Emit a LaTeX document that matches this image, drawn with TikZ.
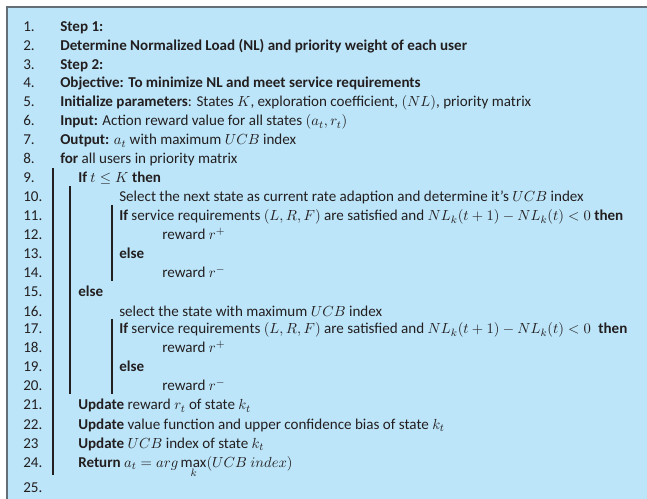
\documentclass[tikz,border=0pt]{standalone}
\usepackage{fontspec}
\setmainfont{Carlito}
\definecolor{boxfill}{RGB}{188,229,249}
\definecolor{boxline}{RGB}{100,110,118}
\definecolor{ink}{RGB}{35,31,32}
\begin{document}
\begin{tikzpicture}[x=0.75pt,y=-0.75pt,
  num/.style={anchor=base west,inner sep=0pt,text=ink,font=\fontsize{11.3}{13}\selectfont},
  txt/.style={anchor=base west,inner sep=0pt,text=ink,font=\fontsize{11.3}{13}\selectfont},
  bar/.style={draw=ink,line width=0.8pt}]
\useasboundingbox (0,0) rectangle (647,499);
\fill[boxfill] (7,7) rectangle (647,499);
\draw[boxline,line width=1.2pt] (7,499) -- (7,7) -- (647,7);
% line baselines: center + 5
\foreach \n/\y in {1./32,2./51,3./70,4./88,5./107,6./126,7./145,8./164,9./183,10./202,11./221,12./240,13./259,14./278,15./297,16./316,17./334,18./353,19./372,20./391,21./410,22./429,23/448,24./467,25./492}
  \node[num] (n\n) at (23,\y) {\n};
\node[txt] (t1) at (60,32) {\textbf{Step 1:}};
\node[txt] (t2) at (60,51) {\textbf{Determine Normalized Load (NL) and priority weight of each user}};
\node[txt] (t3) at (60,70) {\textbf{Step 2:}};
\node[txt] (t4) at (60,88) {\textbf{Objective: To minimize NL and meet service requirements}};
\node[txt] (t5) at (60,107) {\textbf{Initialize parameters}: States $K$, exploration coefficient, $(NL)$, priority matrix};
\node[txt] (t6) at (60,126) {\textbf{Input:} Action reward value for all states $(a_t,r_t)$};
\node[txt] (t7) at (60,145) {\textbf{Output:} $a_t$ with maximum $UCB$ index};
\node[txt] (t8) at (60,164) {\textbf{for} all users in priority matrix};
\node[txt] (t9) at (78,183) {\textbf{If} $t\le K$ \textbf{then}};
\node[txt] (t10) at (119,202) {Select the next state as current rate adaption and determine it’s $UCB$ index};
\node[txt] (t11) at (119,221) {\textbf{If} service requirements $(L,R,F)$ are satisfied and $NL_k(t+1)-NL_k(t)<0$ \textbf{then}};
\node[txt] (t12) at (162,240) {reward $r^+$};
\node[txt] (t13) at (119,259) {\textbf{else}};
\node[txt] (t14) at (162,278) {reward $r^-$};
\node[txt] (t15) at (78,297) {\textbf{else}};
\node[txt] (t16) at (119,316) {select the state with maximum $UCB$ index};
\node[txt] (t17) at (119,334) {\textbf{If} service requirements $(L,R,F)$ are satisfied and $NL_k(t+1)-NL_k(t)<0$\hspace{0.5em}\textbf{then}};
\node[txt] (t18) at (162,353) {reward $r^+$};
\node[txt] (t19) at (119,372) {\textbf{else}};
\node[txt] (t20) at (162,391) {reward $r^-$};
\node[txt] (t21) at (78,410) {\textbf{Update} reward $r_t$ of state $k_t$};
\node[txt] (t22) at (78,429) {\textbf{Update} value function and upper confidence bias of state $k_t$};
\node[txt] (t23) at (78,448) {\textbf{Update} $UCB$ index of state $k_t$};
\node[txt] (t24) at (78,467) {\textbf{Return} $a_t = arg\max\limits_k(UCB\ index)$};
% indentation bars
\draw[bar] (53,168) -- (53,475);
\draw[bar] (70,186) -- (70,394);
\draw[bar] (112,205) -- (112,281);
\draw[bar] (112,319) -- (112,394);
\end{tikzpicture}
\end{document}
